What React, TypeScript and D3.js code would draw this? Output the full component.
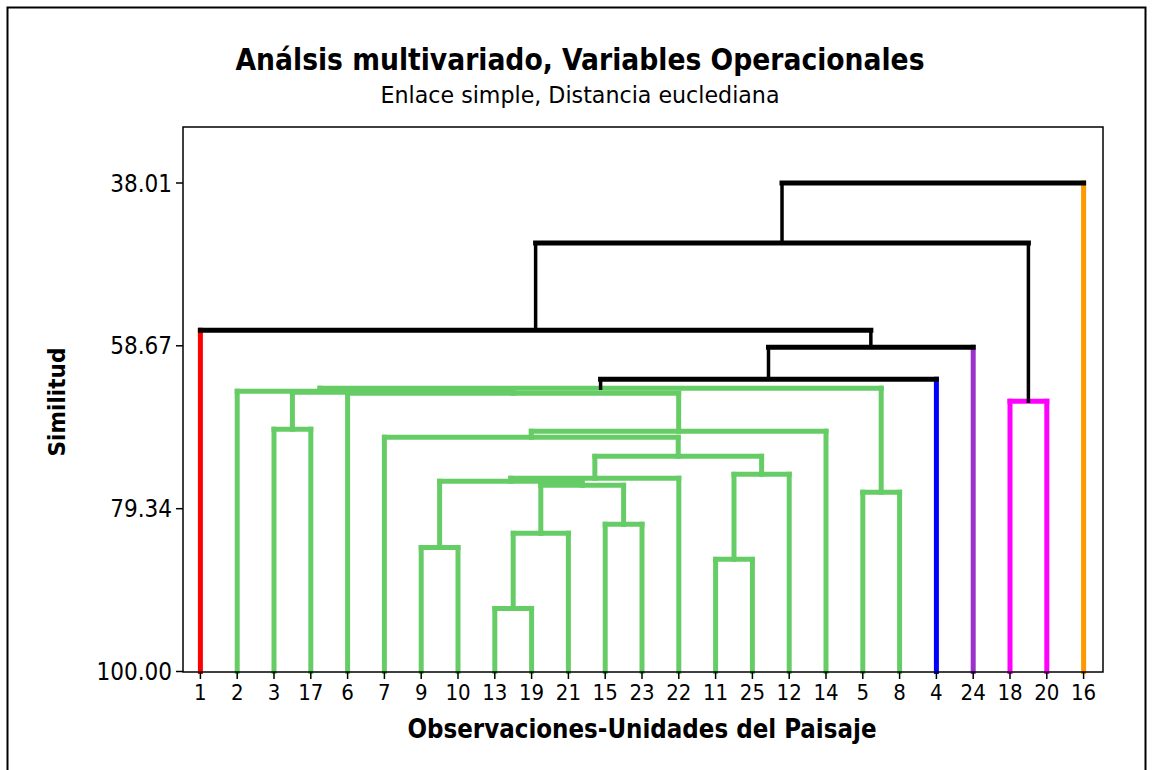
import React from "react";
import * as d3 from "d3";

const leaves = ["1","2","3","17","6","7","9","10","13","19","21","15","23","22","11","25","12","14","5","8","4","24","18","20","16"];
const leafCluster = [0,1,1,1,1,1,1,1,1,1,1,1,1,1,1,1,1,1,1,1,2,3,4,4,5];
const clusterColors = ["#FF0000","#66CC66","#0000FF","#9933CC","#FF00FF","#FF9900"];

// merges in order; node ids n1..n24
const mergeLeft = ["13","n1","15","n2","9","n5","n6","11","n8","n7","7","n11","3","5","6","n13","2","n17","n18","n19","1","18","n21","n23"];
const mergeRight = ["19","21","23","n3","10","n4","22","25","12","n9","n10","14","17","8","n12","n15","n16","n14","4","24","n20","20","n22","16"];
const mergeSimilarity = [92.0,82.47,81.33,76.37,84.25,75.86,75.48,85.77,74.98,72.69,70.28,69.51,69.26,77.26,64.69,64.56,64.43,64.05,62.91,58.84,56.68,65.7,45.63,38.01];

const yTicks = [38.01, 58.67, 79.34, 100.0];
const yTickLabels = ["38.01", "58.67", "79.34", "100.00"];

const title = "Análsis multivariado, Variables Operacionales";
const subtitle = "Enlace simple, Distancia euclediana";
const xTitle = "Observaciones-Unidades del Paisaje";
const yTitle = "Similitud";

const W = 1153, H = 770;
const plot = { left: 183, right: 1103, top: 127, bottom: 672 };
const FONT = "'DejaVu Sans Condensed', 'DejaVu Sans', Tahoma, sans-serif";

export default function App() {
  const x = d3.scalePoint<string>().domain(leaves).range([plot.left - 1, plot.right - 1]).padding(0.5);
  const y = d3.scaleLinear().domain([38.01, 100]).range([183, 671.5]);

  type Node = { x: number; sim: number; cluster: number | null; leaf: boolean };
  const nodes: Record<string, Node> = {};
  leaves.forEach((l, i) => {
    nodes[l] = { x: x(l) as number, sim: 100, cluster: leafCluster[i], leaf: true };
  });
  const segs: { x1: number; y1: number; x2: number; y2: number; color: string; w: number }[] = [];
  mergeLeft.forEach((a, i) => {
    const b = mergeRight[i];
    const na = nodes[a], nb = nodes[b];
    const sim = mergeSimilarity[i];
    const cl = na.cluster !== null && na.cluster === nb.cluster ? na.cluster : null;
    const node: Node = { x: (na.x + nb.x) / 2, sim, cluster: cl, leaf: false };
    nodes["n" + (i + 1)] = node;
    const yy = y(sim);
    [na, nb].forEach((c) => {
      const colored = c.leaf || cl !== null;
      const col = colored && c.cluster !== null ? clusterColors[c.cluster] : "#000";
      segs.push({ x1: c.x, y1: y(c.sim), x2: c.x, y2: yy, color: col, w: col === "#000" ? 3.5 : 5 });
    });
    segs.push({
      x1: Math.min(na.x, nb.x), y1: yy, x2: Math.max(na.x, nb.x), y2: yy,
      color: cl !== null ? clusterColors[cl] : "#000", w: 5,
    });
  });

  return (
    <svg width={W} height={H} style={{ position: "absolute", left: 0, top: 0, background: "#fff" }} fontFamily={FONT}>
      <rect x={0} y={0} width={W} height={H} fill="#fff" />
      <rect x={7.5} y={7.5} width={1138} height={790} fill="none" stroke="#000" strokeWidth={2} />
      <text x={580} y={70} textAnchor="middle" fontSize={30} fontWeight="bold" textLength={689} lengthAdjust="spacingAndGlyphs">{title}</text>
      <text x={580} y={103} textAnchor="middle" fontSize={22.5} textLength={399} lengthAdjust="spacingAndGlyphs">{subtitle}</text>

      {/* dendrogram */}
      {segs.map((s, i) => (
        <line key={i} x1={s.x1} y1={s.y1} x2={s.x2} y2={s.y2} stroke={s.color} strokeWidth={s.w} strokeLinecap="square" />
      ))}

      {/* frame */}
      <rect x={plot.left} y={plot.top} width={plot.right - plot.left} height={plot.bottom - plot.top} fill="none" stroke="#000" strokeWidth={1.5} />

      {/* y axis */}
      {yTicks.map((t, i) => (
        <g key={t}>
          <line x1={plot.left - 7} x2={plot.left} y1={y(t)} y2={y(t)} stroke="#000" strokeWidth={1.5} />
          <text x={plot.left - 11} y={y(t)} dy="0.36em" textAnchor="end" fontSize={24}>{yTickLabels[i]}</text>
        </g>
      ))}
      <text transform={`translate(65,${402}) rotate(-90)`} textAnchor="middle" fontSize={23} fontWeight="bold" textLength={109} lengthAdjust="spacingAndGlyphs">{yTitle}</text>

      {/* x axis */}
      {leaves.map((l) => (
        <g key={l}>
          <line x1={x(l)} x2={x(l)} y1={plot.bottom} y2={plot.bottom + 7} stroke="#000" strokeWidth={1.5} />
          <text x={x(l)} y={700} textAnchor="middle" fontSize={22}>{l}</text>
        </g>
      ))}
      <text x={642} y={738} textAnchor="middle" fontSize={26} fontWeight="bold" textLength={469} lengthAdjust="spacingAndGlyphs">{xTitle}</text>
    </svg>
  );
}
